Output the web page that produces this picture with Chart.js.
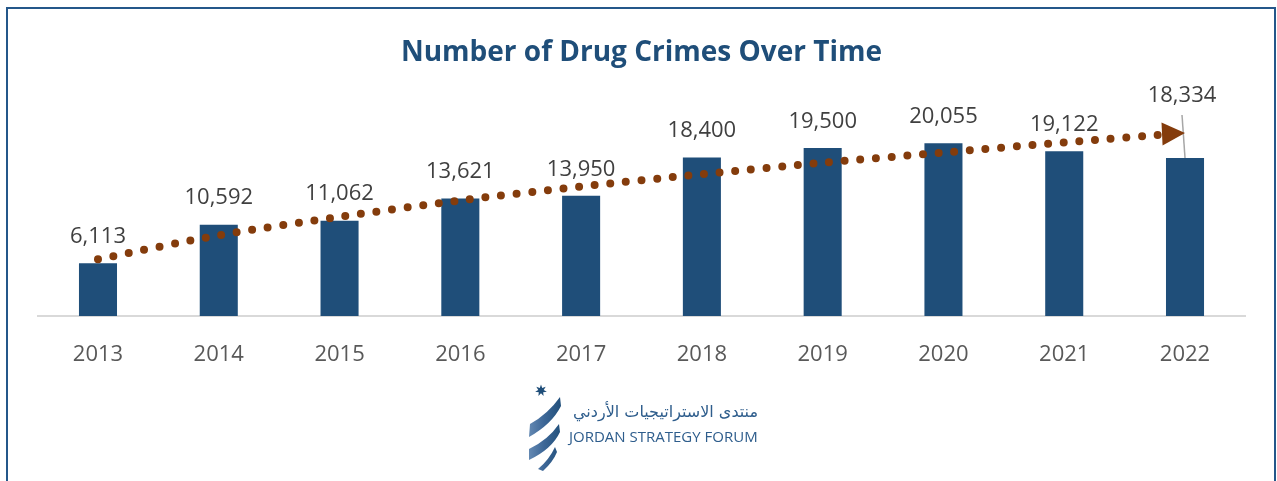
<!DOCTYPE html>
<html><head><meta charset="utf-8">
<script src="https://cdn.jsdelivr.net/npm/chart.js@4/dist/chart.umd.min.js"></script>
<style>
html,body{margin:0;padding:0;background:#fff;}
#wrap{position:relative;width:1277px;height:481px;overflow:hidden;}
#frame{position:absolute;left:6px;top:7px;width:1270px;height:480px;border:2px solid #24578a;border-bottom:none;box-sizing:border-box;pointer-events:none;}
canvas{position:absolute;left:0;top:0;}
</style>
</head><body>
<div id="wrap"><canvas id="c" width="1277" height="481"></canvas><div id="frame"></div></div>
<script>
const chartTitle = 'Number of Drug Crimes Over Time';
const years = ['2013','2014','2015','2016','2017','2018','2019','2020','2021','2022'];
const crimes = [6113, 10592, 11062, 13621, 13950, 18400, 19500, 20055, 19122, 18334];
const trend = [6590, 9364, 11503, 13410, 15029, 16451, 17780, 18960, 20150, 21237];
const logoArabic = 'منتدى الاستراتيجيات الأردني';
const logoEnglish = 'JORDAN STRATEGY FORUM';

const barColor = '#1f4e79';
const trendColor = '#843c0c';

const labelPlugin = {
  id: 'barLabels',
  afterDatasetsDraw(chart) {
    const ctx = chart.ctx;
    const meta = chart.getDatasetMeta(0);
    ctx.save();
    ctx.font = '22px "Open Sans"';
    ctx.fillStyle = '#404040';
    ctx.textAlign = 'center';
    ctx.textBaseline = 'middle';
    meta.data.forEach((bar, i) => {
      const txt = crimes[i].toLocaleString('en-US');
      if (i === crimes.length - 1) {
        const lx = bar.x - 3, ly = bar.y - 62;
        ctx.fillText(txt, lx, ly);
        ctx.save();
        ctx.strokeStyle = '#a6a6a6';
        ctx.lineWidth = 1.5;
        ctx.beginPath();
        ctx.moveTo(lx, ly + 19);
        ctx.lineTo(bar.x, bar.y);
        ctx.stroke();
        ctx.restore();
      } else {
        ctx.fillText(txt, bar.x, bar.y - 26.5);
      }
    });
    ctx.restore();
  }
};

const arrowPlugin = {
  id: 'arrowHead',
  afterDatasetsDraw(chart) {
    const meta = chart.getDatasetMeta(1);
    const pts = meta.data;
    const p = pts[pts.length - 1], q = pts[pts.length - 2];
    const ang = Math.atan2(p.y - q.y, p.x - q.x) * 0.6;
    const ctx = chart.ctx;
    ctx.save();
    ctx.translate(p.x, p.y);
    ctx.rotate(ang);
    ctx.fillStyle = trendColor;
    ctx.beginPath();
    ctx.moveTo(0, 0);
    ctx.lineTo(-23, -11.5);
    ctx.lineTo(-23, 11.5);
    ctx.closePath();
    ctx.fill();
    ctx.restore();
  }
};

function star(ctx, cx, cy, r1, r2, n) {
  ctx.beginPath();
  for (let i = 0; i < n * 2; i++) {
    const r = i % 2 === 0 ? r1 : r2;
    const a = -Math.PI / 2 + i * Math.PI / n;
    const x = cx + r * Math.cos(a), y = cy + r * Math.sin(a);
    if (i === 0) ctx.moveTo(x, y); else ctx.lineTo(x, y);
  }
  ctx.closePath();
  ctx.fill();
}

const logoPlugin = {
  id: 'logo',
  afterDraw(chart) {
    const ctx = chart.ctx;
    ctx.save();
    ctx.fillStyle = '#1f4e79';
    star(ctx, 541, 390.5, 6, 2.8, 7);
    const g = ctx.createLinearGradient(526, 0, 562, 0);
    g.addColorStop(0, '#6b8fb8');
    g.addColorStop(0.5, '#3d6797');
    g.addColorStop(1, '#1f4e79');
    ctx.fillStyle = g;
    const bands = [
      [[560,397],[548,414],[530,424],[529,437],[552,424],[561,406]],
      [[559,424],[548,440],[529,449],[529,460],[552,449],[560,432]],
      [[555,447],[549,460],[538,469],[543,471],[553,462],[557,452]]
    ];
    bands.forEach(b => {
      ctx.beginPath();
      ctx.moveTo(b[0][0], b[0][1]);
      ctx.quadraticCurveTo(b[1][0], b[1][1], b[2][0], b[2][1]);
      ctx.lineTo(b[3][0], b[3][1]);
      ctx.quadraticCurveTo(b[4][0], b[4][1], b[5][0], b[5][1]);
      ctx.closePath();
      ctx.fill();
    });
    ctx.fillStyle = '#2e5d8c';
    ctx.textBaseline = 'middle';
    ctx.textAlign = 'right';
    ctx.font = '16px "DejaVu Sans"';
    ctx.fillText(logoArabic, 758, 413, 188);
    ctx.textAlign = 'left';
    ctx.font = '15px "Open Sans"';
    ctx.fillText(logoEnglish, 569, 437.5, 189);
    ctx.restore();
  }
};

new Chart(document.getElementById('c'), {
  data: {
    labels: years,
    datasets: [
      {
        type: 'bar',
        label: 'Drug crimes',
        data: crimes,
        backgroundColor: barColor,
        barPercentage: 0.315,
        categoryPercentage: 1,
        order: 2
      },
      {
        type: 'line',
        label: 'Trend',
        data: trend,
        borderColor: trendColor,
        borderWidth: 8,
        borderDash: [0, 15.7],
        borderCapStyle: 'round',
        pointRadius: 0,
        tension: 0.3,
        fill: false,
        order: 1
      }
    ]
  },
  options: {
    responsive: false,
    animation: false,
    devicePixelRatio: 1,
    layout: { padding: { left: 37.6, right: 31.6, top: 0, bottom: 115 } },
    plugins: {
      legend: { display: false },
      tooltip: { enabled: false },
      title: {
        display: true,
        text: chartTitle,
        color: '#1f4e79',
        font: { family: 'Open Sans', size: 28, weight: 'bold' },
        padding: { top: 35.8, bottom: 31.15 }
      }
    },
    scales: {
      x: {
        grid: { display: false, drawTicks: false },
        border: { display: true, color: '#d9d9d9', width: 2 },
        ticks: { color: '#595959', font: { family: 'Open Sans', size: 22 }, padding: 26 },
        afterFit(scale) { scale.height = 50; }
      },
      y: {
        display: false,
        min: 0,
        max: 25000
      }
    }
  },
  plugins: [labelPlugin, arrowPlugin, logoPlugin]
});
</script>
</body></html>
